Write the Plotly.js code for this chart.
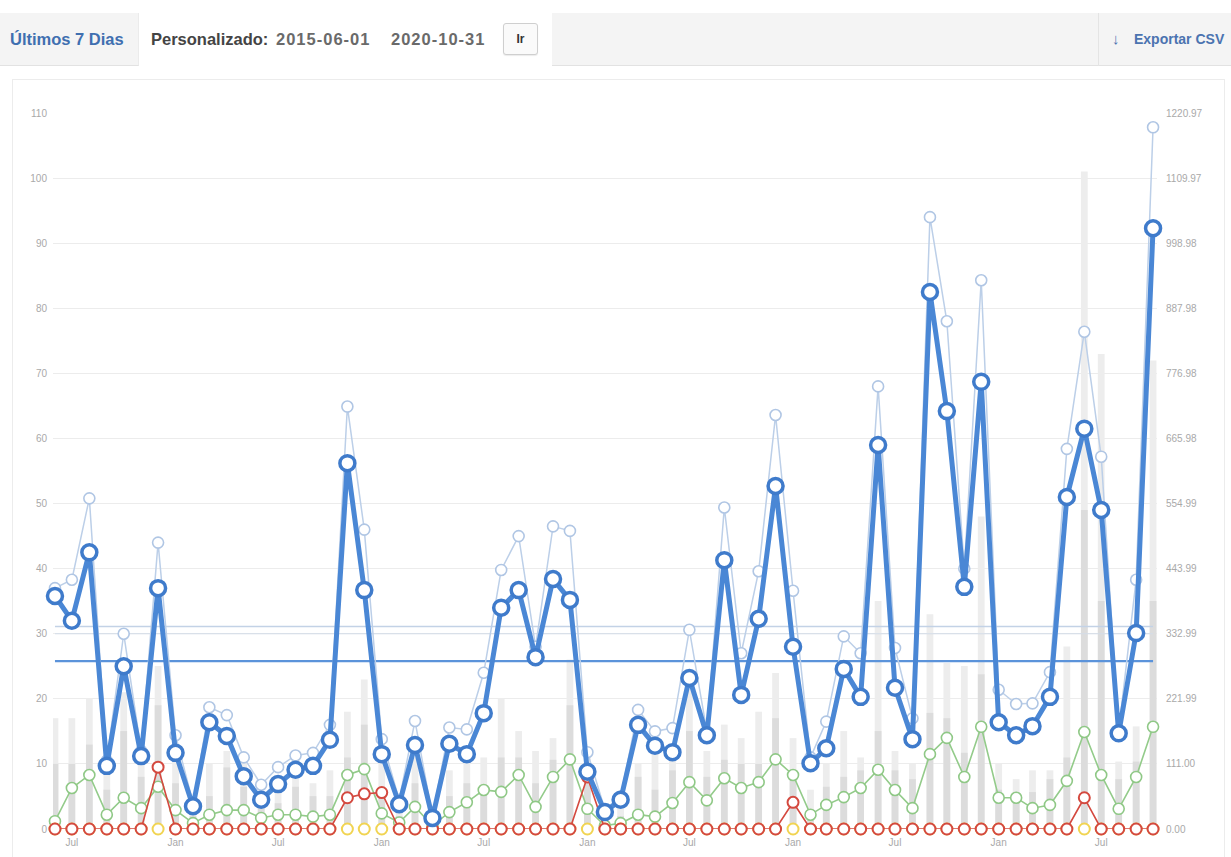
<!DOCTYPE html>
<html>
<head>
<meta charset="utf-8">
<script src="https://cdn.plot.ly/plotly-3.0.1.min.js"></script>
<style>
  html, body { margin:0; padding:0; background:#fff; width:1231px; height:857px; overflow:hidden;
    font-family:"Liberation Sans", Arial, sans-serif; }
  .abs { position:absolute; }
  #tab { left:0; top:13px; width:139px; height:53px; background:#f4f4f4; border-bottom:1px solid #e2e2e2; border-right:1px solid #ebebeb; box-sizing:border-box; }
  #band { left:552px; top:13px; width:679px; height:53px; background:#f4f4f4; border-bottom:1px solid #e2e2e2; box-sizing:border-box; }
  #sep { left:1098px; top:13px; width:1px; height:53px; background:#e4e4e4; }
  .txt { font-weight:bold; font-size:16.5px; line-height:20px; top:29px; white-space:nowrap; }
  .date { letter-spacing:1px; color:#6a6a6a; }
  #btn { left:503px; top:23px; width:35px; height:32px; background:#fafafa; border:1px solid #cfcfcf; border-radius:3px; box-sizing:border-box;
    box-shadow:0 1px 1px rgba(0,0,0,0.08); font-weight:bold; font-size:12px; color:#333; text-align:center; line-height:30px; }
  #box { left:12px; top:79px; width:1213px; height:800px; border:1px solid #ececec; box-sizing:border-box; }
  #chart { left:0; top:0; width:1231px; height:857px; }
</style>
</head>
<body>
<div id="box" class="abs"></div>
<div id="chart" class="abs"></div>
<div id="tab" class="abs"></div>
<div id="band" class="abs"></div>
<div id="sep" class="abs"></div>
<div class="abs txt" style="left:10px;color:#3f6fb0;">Últimos 7 Dias</div>
<div class="abs txt" style="left:151px;color:#444;">Personalizado:</div>
<div class="abs txt date" style="left:276px;">2015-06-01</div>
<div class="abs txt date" style="left:391px;">2020-10-31</div>
<div id="btn" class="abs">Ir</div>
<div class="abs txt" style="left:1112px;color:#4b73b0;font-size:15px;">↓</div>
<div class="abs txt" style="left:1134px;color:#4b73b0;font-size:14px;">Exportar CSV</div>
<script>
// ---- data ----
const months = ['2015-06','2015-07','2015-08','2015-09','2015-10','2015-11','2015-12',
  '2016-01','2016-02','2016-03','2016-04','2016-05','2016-06','2016-07','2016-08','2016-09','2016-10','2016-11','2016-12',
  '2017-01','2017-02','2017-03','2017-04','2017-05','2017-06','2017-07','2017-08','2017-09','2017-10','2017-11','2017-12',
  '2018-01','2018-02','2018-03','2018-04','2018-05','2018-06','2018-07','2018-08','2018-09','2018-10','2018-11','2018-12',
  '2019-01','2019-02','2019-03','2019-04','2019-05','2019-06','2019-07','2019-08','2019-09','2019-10','2019-11','2019-12',
  '2020-01','2020-02','2020-03','2020-04','2020-05','2020-06','2020-07','2020-08','2020-09','2020-10'];

const mainSeries = [35.8,32.0,42.5,9.7,25.0,11.2,37.0,11.7,3.5,16.4,14.3,8.1,4.5,6.9,9.1,9.7,13.7,56.2,36.7,
  11.5,3.8,12.9,1.7,13.1,11.5,17.8,34.0,36.7,26.4,38.4,35.2,8.8,2.6,4.5,16.0,12.8,11.8,23.2,14.4,41.3,20.6,32.3,52.7,
  28.0,10.1,12.4,24.6,20.3,59.0,21.7,13.8,82.5,64.2,37.2,68.7,16.4,14.4,15.8,20.3,51.0,61.5,49.0,14.7,30.1,92.3];

const lightSeries = [37.0,38.3,50.8,10.5,30.0,12.0,44.0,14.4,4.0,18.7,17.5,11.0,6.8,9.5,11.3,11.7,16.0,64.9,46.0,
  13.8,4.5,16.6,2.0,15.6,15.3,24.0,39.8,45.0,28.0,46.5,45.8,11.8,3.0,5.0,18.3,15.0,15.5,30.6,15.0,49.4,27.0,39.6,63.6,
  36.6,11.0,16.5,29.6,27.0,68.0,27.8,17.0,94.0,78.0,40.0,84.3,21.4,19.2,19.3,24.1,58.4,76.4,57.2,15.0,38.3,107.8];

const greenSeries = [1.2,6.3,8.3,2.2,4.8,3.2,6.5,2.9,0.9,2.2,2.9,2.9,1.7,2.2,2.2,1.9,2.2,8.3,9.2,
  2.4,1.0,3.4,0.5,2.6,4.1,6.0,5.7,8.3,3.4,8.0,10.7,3.1,0.5,0.9,2.2,1.9,4.0,7.2,4.4,7.8,6.3,7.2,10.7,
  8.3,2.2,3.7,4.9,6.3,9.1,6.0,3.2,11.5,14.0,8.0,15.7,4.8,4.8,3.2,3.7,7.4,14.9,8.3,3.1,8.0,15.7];

const redSeries = [0,0,0,0,0,0,9.5,0,0,0,0,0,0,0,0,0,0,4.8,5.4,
  5.6,0,0,0,0,0,0,0,0,0,0,0,8.0,0,0,0,0,0,0,0,0,0,0,0,
  4.1,0,0,0,0,0,0,0,0,0,0,0,0,0,0,0,0,4.8,0,0,0,0];

const yellowSeries = [0,0,0,0,0,0,0,0,0,0,0,0,0,0,0,0,0,0,0,
  0,0,0,0,0,0,0,0,0,0,0,0,0,0,0,0,0,0,0,0,0,0,0,0,
  0,0,0,0,0,0,0,0,0,0,0,0,0,0,0,0,0,0,0,0,0,0];

// bars (right axis units)
const barLight = [189,189,222,100,233,122,278,133,44,111,133,111,56,78,100,78,100,200,255,
  111,44,122,33,100,133,122,222,167,133,155,289,133,33,56,111,155,133,255,133,178,155,200,266,
  155,67,111,167,122,389,133,111,366,283,278,533,111,85,100,100,311,1121,810,115,175,799];
const barDark = [111,111,144,67,167,89,211,78,22,56,105,72,38,44,72,56,56,122,178,
  67,22,78,11,56,78,67,122,122,78,118,211,89,17,22,89,67,100,167,89,118,111,111,189,
  100,33,72,89,100,167,100,85,198,189,130,264,67,63,63,85,122,544,389,85,115,389];

const avgMain = 25.8;
const avgLight = 31.1;
const refLine2 = 30.0;

const leftTicks = [0,10,20,30,40,50,60,70,80,90,100,110];
const rightTickVals = [0,111.00,221.99,332.99,443.99,554.99,665.98,776.98,887.98,998.98,1109.97,1220.97];
const rightTickText = ['0.00','111.00','221.99','332.99','443.99','554.99','665.98','776.98','887.98','998.98','1109.97','1220.97'];

const firstMonth = months[0], lastMonth = months[months.length-1];
const barW = 12*86400000;
const mk = (c, s, w) => ({symbol:'circle', size:s, color:'#ffffff', line:{color:c, width:w}});

const traces = [
  {type:'bar', x:months, y:barLight, yaxis:'y', width:barW, marker:{color:'#ededed'}, hoverinfo:'skip'},
  {type:'bar', x:months, y:barDark, yaxis:'y', width:barW, marker:{color:'#dcdcdc'}, hoverinfo:'skip'},
  {type:'scatter', mode:'lines', x:[firstMonth,lastMonth], y:[refLine2,refLine2], yaxis:'y2', line:{color:'#d3dce8', width:1.2}},
  {type:'scatter', mode:'lines', x:[firstMonth,lastMonth], y:[avgLight,avgLight], yaxis:'y2', line:{color:'#c3d2e6', width:1.5}},
  {type:'scatter', mode:'lines', x:[firstMonth,lastMonth], y:[avgMain,avgMain], yaxis:'y2', line:{color:'#5b93da', width:2.2}},
  {type:'scatter', mode:'lines+markers', x:months, y:greenSeries, yaxis:'y2', cliponaxis:false,
    line:{color:'#93cb8a', width:1.6}, marker:mk('#8fc886',11,1.6)},
  {type:'scatter', mode:'markers', x:months, y:yellowSeries, yaxis:'y2', cliponaxis:false,
    marker:mk('#f1d452',11,2)},
  {type:'scatter', mode:'lines+markers', x:months, y:redSeries, yaxis:'y2', cliponaxis:false,
    line:{color:'#d4493f', width:1.6}, marker:mk('#d4493f',11,2)},
  {type:'scatter', mode:'lines+markers', x:months, y:lightSeries, yaxis:'y2', cliponaxis:false,
    line:{color:'#bccfe8', width:1.5}, marker:mk('#b0c6e4',11,1.6)},
  {type:'scatter', mode:'lines+markers', x:months, y:mainSeries, yaxis:'y2', cliponaxis:false,
    line:{color:'#4a87d5', width:5}, marker:mk('#3f7bcb',15,3.5)}
];

const tickFont = {family:'"Liberation Sans", Arial, sans-serif', size:10, color:'#a9a9a9'};

const layout = {
  width:1231, height:857,
  margin:{l:53, r:74, t:113, b:28},
  paper_bgcolor:'rgba(0,0,0,0)', plot_bgcolor:'rgba(0,0,0,0)',
  showlegend:false, barmode:'overlay', hovermode:false,
  xaxis:{type:'date', range:['2015-05-28 12:00','2020-10-08'], tickformat:'%b', dtick:'M6', tick0:'2015-07-01',
    showgrid:false, zeroline:false, showline:false, ticks:'', tickfont:tickFont, ticklabelstandoff:6},
  yaxis:{side:'right', range:[0,1220.97], tickvals:rightTickVals, ticktext:rightTickText,
    showgrid:true, gridcolor:'#ececec', gridwidth:1, zeroline:false, showline:false, ticks:'',
    tickfont:tickFont, ticklabelstandoff:8},
  yaxis2:{side:'left', overlaying:'y', range:[0,110], tickvals:leftTicks, showgrid:false, zeroline:false,
    showline:false, ticks:'', tickfont:tickFont, ticklabelstandoff:5}
};

Plotly.newPlot('chart', traces, layout, {displayModeBar:false, staticPlot:true});
</script>
</body>
</html>
